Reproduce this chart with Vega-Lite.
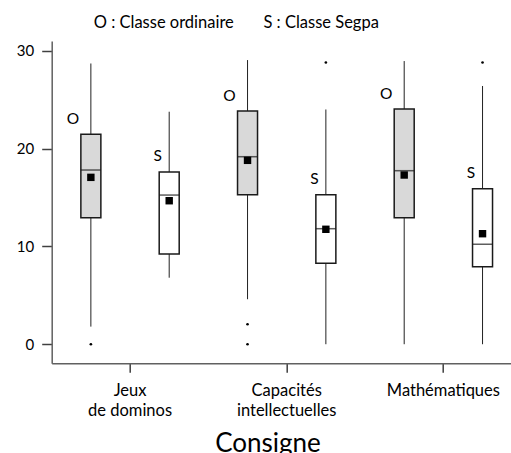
{
  "$schema": "https://vega.github.io/schema/vega-lite/v6.json",
  "autosize": {"type": "none"},
  "padding": {"left": 51.7, "top": 41, "right": 0, "bottom": 89.7},
  "width": 459.3,
  "height": 322.3,
  "datasets": {
    "boxes": [
      {"consigne": "Jeux de dominos", "classe": "O", "lo": 1.8, "q1": 12.94, "med": 17.81, "q3": 21.46, "hi": 28.7, "moy": 17.06},
      {"consigne": "Jeux de dominos", "classe": "S", "lo": 6.8, "q1": 9.23, "med": 15.25, "q3": 17.6, "hi": 23.77, "moy": 14.67},
      {"consigne": "Capacités intellectuelles", "classe": "O", "lo": 4.6, "q1": 15.29, "med": 19.17, "q3": 23.84, "hi": 29.05, "moy": 18.8},
      {"consigne": "Capacités intellectuelles", "classe": "S", "lo": 0, "q1": 8.28, "med": 11.81, "q3": 15.29, "hi": 24.0, "moy": 11.75},
      {"consigne": "Mathématiques", "classe": "O", "lo": 0, "q1": 12.94, "med": 17.74, "q3": 24.04, "hi": 28.95, "moy": 17.3},
      {"consigne": "Mathématiques", "classe": "S", "lo": 0, "q1": 7.93, "med": 10.22, "q3": 15.9, "hi": 26.4, "moy": 11.3}
    ],
    "outliers": [
      {"consigne": "Jeux de dominos", "classe": "O", "valeur": 0},
      {"consigne": "Capacités intellectuelles", "classe": "O", "valeur": 2.04},
      {"consigne": "Capacités intellectuelles", "classe": "O", "valeur": 0},
      {"consigne": "Capacités intellectuelles", "classe": "S", "valeur": 28.8},
      {"consigne": "Mathématiques", "classe": "S", "valeur": 28.8}
    ]
  },
  "title": {
    "text": "O : Classe ordinaire\u00a0\u00a0\u00a0\u00a0\u00a0\u00a0\u00a0S : Classe Segpa",
    "anchor": "start",
    "frame": "group",
    "dx": 42,
    "baseline": "alphabetic",
    "offset": -3,
    "font": "Lato",
    "fontSize": 16.5,
    "fontWeight": "normal",
    "color": "#000000"
  },
  "encoding": {
    "x": {
      "field": "consigne",
      "type": "nominal",
      "sort": ["Jeux de dominos", "Capacités intellectuelles", "Mathématiques"],
      "scale": {"domain": ["Jeux de dominos", "Capacités intellectuelles", "Mathématiques"], "range": [0, 470], "paddingInner": 0, "paddingOuter": 0},
      "axis": {
        "title": "Consigne",
        "titleFont": "Lato",
        "titleFontSize": 26,
        "titleFontWeight": "normal",
        "titleColor": "#000000",
        "titleX": 215.8,
        "titleY": 88.4,
        "titleBaseline": "alphabetic",
        "titleAnchor": "middle",
        "labelAngle": 0,
        "labelFont": "Lato",
        "labelFontSize": 16.5,
        "labelColor": "#000000",
        "labelLineHeight": 20,
        "labelPadding": 10,
        "labelExpr": "datum.value == 'Jeux de dominos' ? ['Jeux', 'de dominos'] : datum.value == 'Capacités intellectuelles' ? ['Capacités', 'intellectuelles'] : datum.value",
        "tickSize": 9,
        "tickColor": "#404040",
        "tickWidth": 1.5,
        "domainColor": "#606060",
        "domainWidth": 1.5
      }
    },
    "xOffset": {
      "field": "classe",
      "type": "nominal",
      "scale": {"domain": ["O", "S"], "paddingInner": 0, "paddingOuter": 0}
    }
  },
  "layer": [
    {
      "data": {"name": "boxes"},
      "mark": {"type": "rule", "color": "#222222", "strokeWidth": 1},
      "encoding": {
        "y": {
          "field": "lo",
          "type": "quantitative",
          "scale": {"domain": [-1.95, 31], "nice": false, "zero": false},
          "axis": {
            "title": null,
            "values": [0, 10, 20, 30],
            "grid": false,
            "tickSize": 10,
            "tickColor": "#404040",
            "tickWidth": 1.5,
            "labelPadding": 8,
            "labelFont": "Lato",
            "labelFontSize": 15,
            "labelColor": "#000000",
            "domainColor": "#606060",
            "domainWidth": 1.5
          }
        },
        "y2": {"field": "hi"}
      }
    },
    {
      "data": {"name": "boxes"},
      "mark": {"type": "bar", "size": 20, "stroke": "#1a1a1a", "strokeWidth": 1.5},
      "encoding": {
        "y": {"field": "q1", "type": "quantitative"},
        "y2": {"field": "q3"},
        "fill": {"field": "classe", "type": "nominal", "scale": {"domain": ["O", "S"], "range": ["#d9d9d9", "#ffffff"]}, "legend": null}
      }
    },
    {
      "data": {"name": "boxes"},
      "mark": {"type": "tick", "size": 20, "thickness": 1.5, "color": "#1a1a1a", "orient": "horizontal"},
      "encoding": {
        "y": {"field": "med", "type": "quantitative"}
      }
    },
    {
      "data": {"name": "boxes"},
      "mark": {"type": "point", "shape": "square", "filled": true, "size": 55, "color": "#000000", "opacity": 1},
      "encoding": {
        "y": {"field": "moy", "type": "quantitative"}
      }
    },
    {
      "data": {"name": "outliers"},
      "mark": {"type": "circle", "size": 7, "color": "#000000", "opacity": 1},
      "encoding": {
        "y": {"field": "valeur", "type": "quantitative"}
      }
    },
    {
      "data": {"name": "boxes"},
      "transform": [{"filter": "datum.classe == 'O'"}],
      "mark": {"type": "text", "font": "Lato", "fontSize": 15.5, "color": "#000000", "dx": -18, "dy": -15, "baseline": "middle", "align": "center"},
      "encoding": {
        "y": {"field": "q3", "type": "quantitative"},
        "text": {"field": "classe", "type": "nominal"}
      }
    },
    {
      "data": {"name": "boxes"},
      "transform": [{"filter": "datum.classe == 'S'"}],
      "mark": {"type": "text", "font": "Lato", "fontSize": 15.5, "color": "#000000", "dx": -11.5, "dy": -16, "baseline": "middle", "align": "center"},
      "encoding": {
        "y": {"field": "q3", "type": "quantitative"},
        "text": {"field": "classe", "type": "nominal"}
      }
    }
  ],
  "config": {
    "view": {"stroke": null},
    "font": "Lato"
  }
}
